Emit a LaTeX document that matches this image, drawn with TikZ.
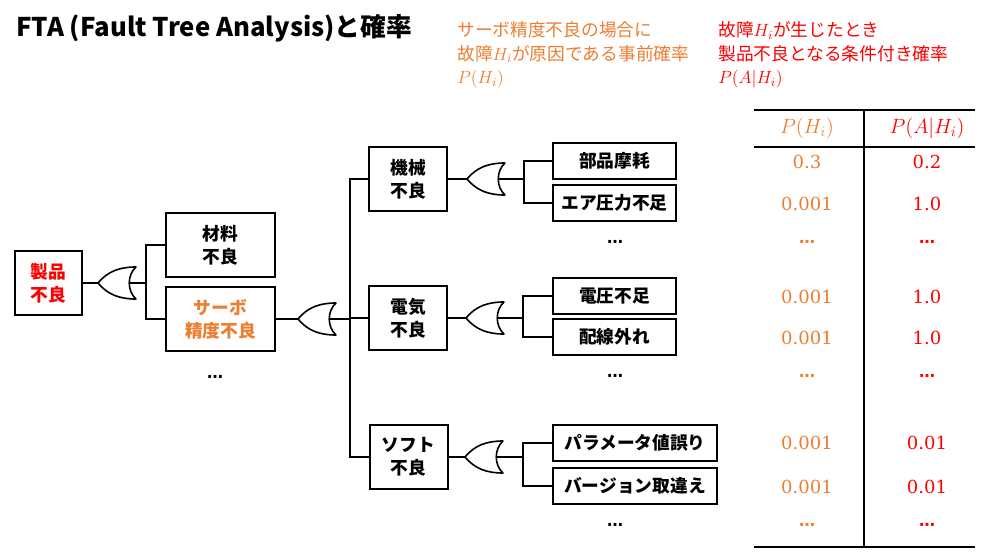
\RequirePackage{fix-cm}
\documentclass[tikz,border=0pt]{standalone}
\usepackage{fontspec}
\setmainfont{Noto Sans CJK JP}
\newfontfamily\digitfont{DejaVu Serif}
\newfontfamily\symfont{DejaVu Sans}
\usetikzlibrary{positioning}
\definecolor{accorange}{HTML}{ED7D31}
\definecolor{accred}{HTML}{FF0000}
\newcommand{\boxfont}{\fontsize{13.3}{17.3}\selectfont\bfseries}
\newcommand{\notefont}{\fontsize{13.3}{17.6}\selectfont}
\newcommand{\numfont}{\fontsize{13.5}{16}\selectfont\digitfont}
\newcommand{\headfont}{\fontsize{15.5}{18}\selectfont}
\tikzset{
  gateline/.style={line width=1.2pt, line join=round},
  orgate/.pic={
    \draw[gateline] (0,0) .. controls (10,-12) and (22,-16) .. (38,-16)
      .. controls (29,-8) and (29,8) .. (38,16)
      .. controls (22,16) and (10,12) .. (0,0) -- cycle;
    \coordinate (-tip) at (0,0);
    \coordinate (-out) at (31,0);
  },
}
\begin{document}
\begin{tikzpicture}[
    x=0.75pt, y=-0.75pt,
    box/.style={draw, line width=1.5pt, minimum height=48pt, inner sep=0pt, align=center, font=\boxfont},
    leaf/.style={draw, line width=1.5pt, minimum height=27pt, minimum width=92.25pt, inner sep=0pt, font=\boxfont},
    wideleaf/.style={leaf, minimum width=123pt},
    wire/.style={line width=1.5pt},
    rule/.style={line width=1.5pt},
    note/.style={anchor=west, align=left, inner sep=0pt, font=\notefont},
    dots/.style={font=\fontsize{12}{14}\selectfont\symfont\bfseries},
]
\useasboundingbox (0,0) rectangle (998,556);

% --- Title and notes ---
\node[anchor=west, inner sep=0pt, font=\fontsize{19.3}{23}\selectfont\bfseries] (title) at (16,28) {FTA (Fault Tree Analysis)と確率};
\node[note, text=accorange] (noteprior) at (457,55) {サーボ精度不良の場合に\\故障$H_i$が原因である事前確率\\$P(H_i)$};
\node[note, text=accred] (notecond) at (718,55) {故障$H_i$が生じたとき\\製品不良となる条件付き確率\\$P(A|H_i)$};

% --- Level 1 ---
\node[box, minimum width=50.25pt, text=accred] (prod) at (48.5,283) {製品\\不良};
\pic (g1) at (98,283) {orgate};
\coordinate (b1) at (146,283);

% --- Level 2 ---
\node[box, minimum width=81.75pt] (mat) at (220.5,245) {材料\\不良};
\node[box, minimum width=81.75pt, text=accorange] (servo) at (220.5,319) {サーボ\\精度不良};
\node[dots] (dots1) at (215,379) {⋯};
\pic (g2) at (298,319) {orgate};
\coordinate (b2) at (350,319);

% --- Level 3 ---
\node[box, minimum width=58.5pt] (mech) at (408,179) {機械\\不良};
\node[box, minimum width=58.5pt] (elec) at (408,318) {電気\\不良};
\node[box, minimum width=58.5pt] (soft) at (408.5,457) {ソフト\\不良};
\pic (g3) at (467,179) {orgate};
\pic (g4) at (466,318) {orgate};
\pic (g5) at (465,457) {orgate};
\coordinate (b3) at (524,179);
\coordinate (b4) at (523,318);
\coordinate (b5) at (523,457);

% --- Level 4 ---
\node[leaf] (wear) at (614.5,161) {部品摩耗};
\node[leaf] (air) at (614.5,203) {エア圧力不足};
\node[dots] (dots2) at (615,244) {⋯};
\node[leaf] (volt) at (614.5,296) {電圧不足};
\node[leaf] (wire) at (614.5,337) {配線外れ};
\node[dots] (dots3) at (615,378) {⋯};
\node[wideleaf] (param) at (635,443) {パラメータ値誤り};
\node[wideleaf] (ver) at (635,486) {バージョン取違え};
\node[dots] (dots4) at (615,527) {⋯};

% === Connectors ===
\draw[wire] (prod) -- (g1-tip);
\draw[wire] (g1-out) -- (b1);
\draw[wire] (mat.west) -| (b1);
\draw[wire] (servo.west) -| (b1);

\draw[wire] (servo) -- (g2-tip);
\draw[wire] (g2-out) -- (b2);
\draw[wire] (mech.west) -| (b2);
\draw[wire] (elec.west) -| (b2);
\draw[wire] (soft.west) -| (b2);

\draw[wire] (mech) -- (g3-tip);
\draw[wire] (g3-out) -- (b3);
\draw[wire] (wear.west) -| (b3);
\draw[wire] (air.west) -| (b3);

\draw[wire] (elec) -- (g4-tip);
\draw[wire] (g4-out) -- (b4);
\draw[wire] (volt.west) -| (b4);
\draw[wire] (wire.west) -| (b4);

\draw[wire] (soft) -- (g5-tip);
\draw[wire] (g5-out) -- (b5);
\draw[wire] (param.west) -| (b5);
\draw[wire] (ver.west) -| (b5);

% === Table ===
\draw[rule] (754,110) -- (975,110);
\draw[rule] (754,147) -- (975,147);
\draw[rule] (754,547) -- (975,547);
\draw[rule] (864,110) -- (864,547);
\node[text=accorange, font=\headfont] (hprior) at (807,128) {$P(H_i)$};
\node[text=accred, font=\headfont] (hcond) at (927,128) {$P(A|H_i)$};
\foreach \y/\a/\b in {162/0.3/0.2, 204/0.001/1.0, 297/0.001/1.0, 338/0.001/1.0, 443/0.001/0.01, 487/0.001/0.01} {
  \node[text=accorange, font=\numfont] (pa-\y) at (807,\y) {\a};
  \node[text=accred, font=\numfont] (pb-\y) at (927,\y) {\b};
}
\foreach \y in {244,378,527} {
  \node[dots, text=accorange] (da-\y) at (807,\y) {⋯};
  \node[dots, text=accred] (db-\y) at (927,\y) {⋯};
}
\end{tikzpicture}
\end{document}
